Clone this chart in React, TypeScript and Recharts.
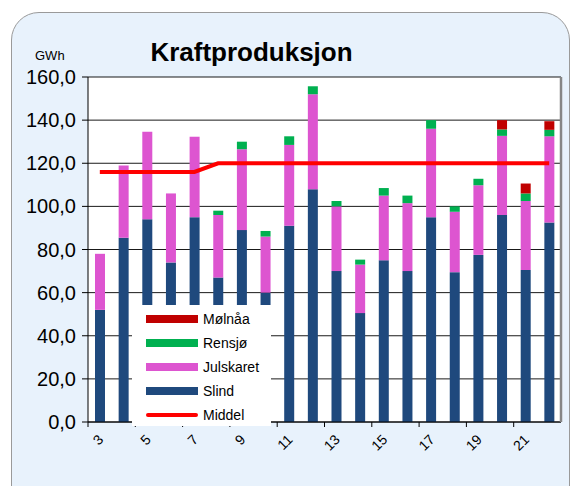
import {
  Bar,
  CartesianGrid,
  ComposedChart,
  Legend,
  Line,
  XAxis,
  YAxis,
} from 'recharts';

const WEEKS = [3, 4, 5, 6, 7, 8, 9, 10, 11, 12, 13, 14, 15, 16, 17, 18, 19, 20, 21, 22];
const SLIND = [52, 85.5, 94, 74, 95, 67, 89, 60, 91, 108, 70, 50.5, 75, 70, 95, 69.5, 77.5, 96, 70.5, 92.5];
const JULSKARET = [26, 33.4, 40.6, 32, 37.3, 29, 37.5, 26, 37.5, 44, 30, 22.5, 30, 31.5, 41, 28, 32.3, 36.7, 32, 40];
const RENSJO = [0, 0, 0, 0, 0, 2, 3.5, 2.6, 4, 3.7, 2.5, 2.3, 3.5, 3.5, 4, 2.5, 3, 3, 3.5, 3];
const MOLNAA = [0, 0, 0, 0, 0, 0, 0, 0, 0, 0, 0, 0, 0, 0, 0, 0, 0, 4.3, 4.6, 4];
const MIDDEL = [116, 116, 116, 116, 116, 120, 120, 120, 120, 120, 120, 120, 120, 120, 120, 120, 120, 120, 120, 120];
const Y_TICKS = [0, 20, 40, 60, 80, 100, 120, 140, 160];

const COLORS = {
  slind: '#1F497D',
  julskaret: '#DD55D0',
  rensjo: '#00B050',
  molnaa: '#C00000',
  middel: '#FF0000',
};

const LEGEND_ITEMS = [
  { name: 'Mølnåa', color: COLORS.molnaa, line: false },
  { name: 'Rensjø', color: COLORS.rensjo, line: false },
  { name: 'Julskaret', color: COLORS.julskaret, line: false },
  { name: 'Slind', color: COLORS.slind, line: false },
  { name: 'Middel', color: COLORS.middel, line: true },
];

const data = WEEKS.map((week, i) => ({
  week,
  slind: SLIND[i],
  julskaret: JULSKARET[i],
  rensjo: RENSJO[i],
  molnaa: MOLNAA[i],
  middel: MIDDEL[i],
}));

const FONT = '"Liberation Sans", Arial, sans-serif';
const W = 571;
const H = 486;
const Y_AXIS_W = 88;
const RIGHT_W = 10;
const HALF_BAND = (W - Y_AXIS_W - RIGHT_W) / WEEKS.length / 2;

// x tick: mark at the left band edge, label turned 45 degrees
function renderXTick(props: any) {
  const { x, y, payload } = props;
  const tx = x - HALF_BAND;
  const lx = x + 1;
  const ly = y + 15;
  return (
    <g key={`xt-${payload.value}`}>
      <line x1={tx} y1={y} x2={tx} y2={y + 5} stroke="#000" strokeWidth={1} />
      <text
        x={lx}
        y={ly}
        textAnchor="end"
        dominantBaseline="central"
        transform={`rotate(-45 ${lx} ${ly})`}
        fill="#000"
        fontSize={14}
        fontFamily={FONT}
      >
        {payload.value}
      </text>
    </g>
  );
}

function LegendBox() {
  return (
    <div style={{ background: '#fff', width: 139, height: 121, paddingTop: 2, boxSizing: 'border-box' }}>
      {LEGEND_ITEMS.map((it) => (
        <div key={it.name} style={{ display: 'flex', alignItems: 'center', height: 24, fontFamily: FONT, fontSize: 14, color: '#000' }}>
          <div
            style={{
              marginLeft: 14,
              width: 52,
              height: it.line ? 4 : 8,
              borderRadius: it.line ? 2 : 0,
              background: it.color,
            }}
          />
          <span style={{ marginLeft: 5 }}>{it.name}</span>
        </div>
      ))}
    </div>
  );
}

export default function App() {
  return (
    <div style={{ position: 'fixed', left: 0, top: 0, width: W, height: H, overflow: 'hidden', background: '#fff' }}>
      <div
        style={{
          position: 'absolute',
          left: 11,
          top: 12,
          width: 557,
          height: 500,
          background: '#E8F2FC',
          border: '1px solid #9a9a9a',
          borderRadius: 28,
        }}
      />
      <div
        style={{
          position: 'absolute',
          left: 0,
          width: 503,
          top: 37,
          textAlign: 'center',
          fontFamily: FONT,
          fontWeight: 'bold',
          fontSize: 26,
          color: '#000',
        }}
      >
        Kraftproduksjon
      </div>
      <div style={{ position: 'absolute', left: 35, top: 48, fontFamily: FONT, fontSize: 13, color: '#000' }}>GWh</div>
      <div style={{ position: 'absolute', left: 0, top: 0 }}>
        <ComposedChart
          width={W}
          height={H}
          data={data}
          margin={{ top: 77, right: 0, bottom: 14, left: 0 }}
          barCategoryGap={0}
        >
          <CartesianGrid vertical={false} stroke="#000" fill="#fff" fillOpacity={1} strokeOpacity={0.9} />
          <XAxis
            dataKey="week"
            interval={1}
            height={50}
            tickLine={false}
            tickSize={0}
            tickMargin={0}
            axisLine={{ stroke: '#000' }}
            tick={renderXTick}
          />
          <YAxis
            domain={[0, 160]}
            ticks={Y_TICKS}
            width={Y_AXIS_W}
            tickSize={6}
            tickMargin={6}
            axisLine={{ stroke: '#000' }}
            tickLine={{ stroke: '#000' }}
            tick={{ fill: '#000', fontSize: 20, fontFamily: FONT }}
            tickFormatter={(v: number) => v.toFixed(1).replace('.', ',')}
          />
          <YAxis
            yAxisId="frame"
            orientation="right"
            width={RIGHT_W}
            tick={false}
            tickLine={false}
            axisLine={{ stroke: '#868686', strokeWidth: 2.5 }}
          />
          <Legend
            layout="vertical"
            align="center"
            verticalAlign="middle"
            content={<LegendBox />}
            wrapperStyle={{ left: 132, top: 305, width: 139, height: 121, bottom: 'auto' }}
          />
          <Bar dataKey="slind" name="Slind" stackId="a" fill={COLORS.slind} barSize={10} isAnimationActive={false} />
          <Bar dataKey="julskaret" name="Julskaret" stackId="a" fill={COLORS.julskaret} barSize={10} isAnimationActive={false} />
          <Bar dataKey="rensjo" name="Rensjø" stackId="a" fill={COLORS.rensjo} barSize={10} isAnimationActive={false} />
          <Bar dataKey="molnaa" name="Mølnåa" stackId="a" fill={COLORS.molnaa} barSize={10} isAnimationActive={false} />
          <Line
            dataKey="middel"
            name="Middel"
            type="linear"
            stroke={COLORS.middel}
            strokeWidth={4}
            dot={false}
            activeDot={false}
            isAnimationActive={false}
          />
        </ComposedChart>
      </div>
    </div>
  );
}
